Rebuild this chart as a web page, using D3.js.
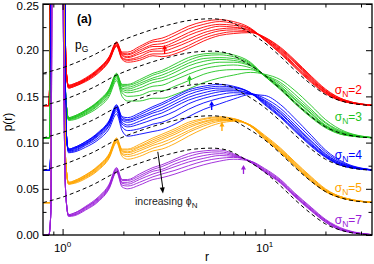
<!DOCTYPE html>
<html>
<head>
<meta charset="utf-8">
<script src="https://cdn.jsdelivr.net/npm/d3@7"></script>
<style>
body { margin: 0; background: #fff; }
svg { display: block; font-family: "Liberation Sans", Arial, Helvetica, sans-serif; }
</style>
</head>
<body>
<script>

// r grid shared by all curves after the contact peak
const rGrid = [1.07, 1.15, 1.3, 1.5, 1.7, 1.85, 1.97, 2.1, 2.4, 2.8, 3.1, 3.6, 4.2, 5, 6, 7, 8.5, 10, 12, 14, 17, 20, 25, 36];

const sigmaN = [2, 3, 4, 5, 7];
const shift = [0.14, 0.105, 0.07, 0.035, 0];

// contact peak (goes off the top of the plot)
const spikeR = [
    [0.78, 0.855, 0.862, 0.87, 1.0, 1.035, 1.05],
    [0.78, 0.86, 0.868, 0.878, 0.99, 1.03, 1.05],
    [0.78, 0.865, 0.873, 0.883, 1.0, 1.038, 1.052],
    [0.78, 0.87, 0.878, 0.888, 0.985, 1.03, 1.05],
    [0.78, 0.855, 0.875, 0.895, 0.975, 1.03, 1.05]
];
const spikeP = [
    [0, 0, 0.02, 0.5, 0.5, 0.06, 0.03],
    [0, 0, 0.02, 0.5, 0.5, 0.06, 0.03],
    [0, 0, 0.02, 0.5, 0.5, 0.06, 0.03],
    [0, 0, 0.02, 0.5, 0.5, 0.06, 0.03],
    [0, 0, 0.025, 0.5, 0.5, 0.06, 0.03]
];

const redCurves = [
    [.022,.024,.030,.040,.053,.069,.058,.058,.064,.071,.073,.079,.086,.091,.093,.091,.084,.071,.056,.042,.025,.013,.004,0],
    [.022,.024,.029,.039,.052,.068,.057,.056,.062,.069,.070,.076,.083,.088,.091,.089,.083,.071,.057,.043,.026,.014,.004,0],
    [.021,.023,.029,.039,.052,.068,.056,.055,.060,.066,.067,.072,.079,.085,.088,.087,.083,.072,.058,.044,.027,.014,.005,0],
    [.021,.023,.028,.038,.051,.067,.055,.053,.058,.064,.064,.069,.076,.082,.086,.085,.082,.072,.059,.045,.028,.015,.005,0],
    [.020,.022,.028,.038,.050,.066,.054,.052,.056,.061,.062,.066,.072,.079,.083,.084,.081,.073,.060,.047,.029,.016,.005,0],
    [.020,.022,.027,.037,.049,.065,.052,.050,.053,.059,.059,.063,.069,.076,.081,.082,.080,.073,.061,.048,.030,.016,.005,0],
    [.019,.021,.027,.036,.049,.065,.051,.049,.051,.056,.056,.059,.065,.073,.078,.080,.080,.074,.062,.049,.031,.017,.006,0],
    [.019,.021,.026,.035,.048,.064,.050,.047,.049,.054,.053,.056,.062,.070,.076,.078,.079,.074,.063,.050,.032,.018,.006,0]
];
const greenCurves = [
    [.022,.024,.030,.040,.053,.070,.058,.058,.063,.070,.073,.080,.087,.091,.092,.090,.082,.067,.052,.038,.022,.011,.003,0],
    [.022,.024,.030,.039,.052,.069,.057,.057,.061,.068,.071,.077,.084,.089,.090,.088,.081,.067,.053,.039,.023,.012,.003,0],
    [.021,.023,.029,.039,.052,.069,.056,.055,.059,.065,.068,.074,.081,.086,.087,.086,.080,.067,.054,.040,.024,.013,.004,0],
    [.021,.023,.029,.038,.051,.068,.054,.053,.057,.063,.065,.071,.078,.083,.085,.084,.079,.068,.055,.042,.026,.013,.004,0],
    [.021,.022,.028,.037,.050,.067,.053,.051,.054,.060,.062,.067,.074,.079,.082,.082,.078,.068,.056,.043,.027,.014,.005,0],
    [.020,.022,.027,.036,.049,.066,.051,.049,.051,.056,.057,.063,.069,.075,.078,.079,.076,.068,.058,.045,.029,.016,.005,0],
    [.020,.021,.026,.035,.047,.064,.049,.045,.046,.051,.051,.056,.062,.069,.073,.074,.074,.068,.060,.048,.031,.017,.006,0],
    [.019,.020,.025,.033,.045,.062,.045,.040,.040,.043,.043,.047,.053,.060,.065,.068,.071,.069,.063,.052,.035,.020,.007,0]
];
const blueCurves = [
    [.023,.025,.031,.041,.054,.071,.058,.057,.062,.069,.073,.080,.087,.091,.093,.091,.084,.071,.057,.043,.026,.014,.004,0],
    [.023,.025,.031,.040,.053,.070,.057,.055,.060,.067,.071,.078,.085,.089,.091,.090,.084,.072,.058,.044,.027,.015,.004,0],
    [.022,.024,.030,.040,.052,.069,.055,.054,.058,.064,.068,.075,.082,.087,.089,.089,.084,.073,.059,.045,.028,.015,.005,0],
    [.022,.024,.029,.039,.052,.068,.054,.052,.056,.062,.065,.072,.079,.084,.087,.087,.083,.074,.061,.047,.029,.016,.005,0],
    [.021,.023,.029,.038,.051,.067,.052,.049,.053,.059,.062,.069,.076,.081,.085,.086,.083,.075,.062,.048,.031,.017,.006,0],
    [.021,.022,.028,.037,.049,.066,.050,.047,.050,.055,.058,.064,.072,.078,.082,.084,.083,.076,.064,.050,.032,.018,.006,0],
    [.020,.021,.027,.035,.048,.064,.047,.043,.045,.050,.052,.058,.066,.073,.078,.081,.083,.078,.067,.053,.035,.020,.007,0],
    [.019,.020,.025,.033,.045,.061,.043,.037,.039,.042,.044,.050,.058,.066,.072,.077,.082,.081,.071,.057,.038,.022,.008,0]
];
const orangeCurves = [
    [.022,.024,.030,.040,.053,.070,.058,.058,.063,.070,.074,.080,.087,.091,.093,.091,.083,.069,.054,.040,.023,.012,.004,0],
    [.022,.024,.030,.039,.052,.069,.057,.057,.061,.068,.072,.078,.085,.090,.092,.091,.083,.069,.055,.041,.024,.012,.004,0],
    [.021,.023,.029,.039,.052,.069,.056,.055,.060,.066,.070,.076,.083,.088,.091,.090,.083,.070,.055,.041,.024,.013,.004,0],
    [.021,.023,.028,.038,.051,.068,.055,.054,.058,.064,.068,.074,.081,.087,.090,.090,.083,.071,.056,.042,.025,.013,.004,0],
    [.021,.022,.028,.037,.050,.067,.053,.052,.056,.062,.065,.071,.078,.085,.089,.089,.084,.071,.057,.043,.026,.014,.005,0],
    [.020,.022,.027,.036,.049,.066,.052,.050,.053,.059,.062,.068,.076,.083,.088,.089,.084,.072,.058,.044,.027,.014,.005,0],
    [.020,.021,.026,.035,.048,.065,.050,.047,.050,.056,.058,.064,.072,.080,.086,.088,.084,.073,.059,.045,.028,.015,.005,0]
];
const purpleCurves = [
    [.022,.024,.031,.041,.055,.073,.060,.060,.066,.073,.076,.082,.088,.091,.092,.088,.079,.068,.056,.042,.026,.014,.004,0],
    [.022,.024,.030,.040,.054,.072,.059,.059,.064,.071,.074,.080,.085,.089,.090,.087,.079,.069,.057,.043,.027,.014,.004,0],
    [.021,.023,.030,.039,.053,.071,.057,.057,.062,.069,.071,.077,.082,.086,.088,.086,.079,.069,.057,.043,.027,.015,.005,0],
    [.021,.022,.029,.038,.052,.070,.056,.055,.060,.066,.069,.074,.079,.083,.086,.085,.080,.070,.058,.044,.028,.016,.005,0],
    [.021,.022,.028,.037,.051,.069,.054,.053,.057,.063,.066,.070,.075,.080,.083,.084,.080,.071,.059,.045,.029,.016,.005,0],
    [.020,.021,.027,.036,.050,.068,.052,.050,.054,.060,.062,.066,.071,.076,.080,.082,.080,.072,.060,.046,.030,.017,.006,0]
];
const families = [redCurves, greenCurves, blueCurves, orangeCurves, purpleCurves];

// Gaussian reference p_G (same shape for each family, shifted)
const pGr = [0.8, 0.9, 1.0, 1.15, 1.4, 1.85, 2.5, 3.3, 4.5, 5.5, 6.5, 8, 10, 12, 14, 17, 20, 24, 30, 36];
const pGval = [.035, .038, .041, .046, .054, .068, .079, .087, .093, .094, .092, .082, .068, .053, .039, .023, .012, .005, .001, 0];

// small arrows (r, p at tip)
const arrowR = [3.2, 4.25, 5.47, 6.15, 7.86];
const arrowP = [0.2056, 0.173, 0.145, 0.1223, 0.0758];

const yTicks = [0, 0.05, 0.1, 0.15, 0.2, 0.25];
const yMinor = [0.025, 0.075, 0.125, 0.175, 0.225];
const xMajor = [1, 10];
const xMinor = [0.9, 2, 3, 4, 5, 6, 7, 8, 9, 20, 30];

const colors = ["#ff0000", "#1fc41f", "#0000ff", "#ffa500", "#9a1ed8"];

let width = 374, height = 264;
let margin = { top: 4, right: 2, bottom: 29, left: 43 };
let plotW = width - margin.left - margin.right;
let plotH = height - margin.top - margin.bottom;

const svg = d3.select("body").append("svg")
    .attr("width", width)
    .attr("height", height);

const x = d3.scaleLog().domain([0.8, 34]).range([margin.left, margin.left + plotW]);
const y = d3.scaleLinear().domain([0, 0.25]).range([margin.top + plotH, margin.top]);

svg.append("defs").append("clipPath").attr("id", "clip")
    .append("rect")
    .attr("x", margin.left).attr("y", margin.top)
    .attr("width", plotW).attr("height", plotH);

const line = d3.line()
    .x(d => x(d[0]))
    .y(d => y(d[1]))
    .curve(d3.curveMonotoneX);

const plot = svg.append("g").attr("clip-path", "url(#clip)");

families.forEach((curves, f) => {
    curves.forEach(row => {
        let pts = spikeR[f].map((r, i) => [r, shift[f] + spikeP[f][i]])
            .concat(rGrid.map((r, i) => [r, shift[f] + row[i]]));
        plot.append("path")
            .attr("d", line(pts))
            .attr("fill", "none")
            .attr("stroke", colors[f])
            .attr("stroke-width", 0.9);
    });
});

// dashed p_G curves
shift.forEach(s => {
    plot.append("path")
        .attr("d", line(pGr.map((r, i) => [r, s + pGval[i]])))
        .attr("fill", "none")
        .attr("stroke", "#000")
        .attr("stroke-width", 1)
        .attr("stroke-dasharray", "4,3");
});

// axes: inward ticks on all four sides
function drawAxis(axis, tx, ty) {
    let g = svg.append("g")
        .attr("transform", "translate(" + tx + "," + ty + ")")
        .call(axis);
    g.select(".domain").remove();
    g.selectAll("line").attr("stroke", "#000");
    return g;
}

let yl = drawAxis(d3.axisLeft(y).tickValues(yTicks).tickSize(-6).tickPadding(4).tickFormat(d3.format(".2f")), margin.left, 0);
yl.selectAll("text").attr("font-size", 11.5).attr("fill", "#000").attr("font-family", "Liberation Sans, Arial, sans-serif");
// keep the top label inside the picture
yl.selectAll("text").filter(d => d === 0.25).attr("dy", "0.5em");
drawAxis(d3.axisLeft(y).tickValues(yMinor).tickSize(-3.5).tickFormat(""), margin.left, 0);
drawAxis(d3.axisRight(y).tickValues(yTicks).tickSize(-6).tickFormat(""), margin.left + plotW, 0);
drawAxis(d3.axisRight(y).tickValues(yMinor).tickSize(-3.5).tickFormat(""), margin.left + plotW, 0);

drawAxis(d3.axisBottom(x).tickValues(xMajor).tickSize(-6).tickFormat(""), 0, margin.top + plotH);
drawAxis(d3.axisBottom(x).tickValues(xMinor).tickSize(-3.5).tickFormat(""), 0, margin.top + plotH);
drawAxis(d3.axisTop(x).tickValues(xMajor).tickSize(-6).tickFormat(""), 0, margin.top);
drawAxis(d3.axisTop(x).tickValues(xMinor).tickSize(-3.5).tickFormat(""), 0, margin.top);

// x tick labels 10^n
xMajor.forEach(v => {
    let t = svg.append("text")
        .attr("x", x(v))
        .attr("y", margin.top + plotH + 17)
        .attr("text-anchor", "middle")
        .attr("font-size", 11.5);
    t.append("tspan").text("10");
    t.append("tspan").attr("dy", -5).attr("font-size", 8).text(Math.round(Math.log10(v)));
});

svg.append("rect")
    .attr("x", margin.left).attr("y", margin.top)
    .attr("width", plotW).attr("height", plotH)
    .attr("fill", "none").attr("stroke", "#000").attr("stroke-width", 1.3);

// axis titles
svg.append("text")
    .attr("x", 207).attr("y", 261)
    .attr("text-anchor", "middle")
    .attr("font-size", 12)
    .text("r");

svg.append("text")
    .attr("transform", "translate(12,122) rotate(-90)")
    .attr("text-anchor", "middle")
    .attr("font-size", 12)
    .text("p(r)");

// labels
svg.append("text")
    .attr("x", 77).attr("y", 23)
    .attr("font-size", 12).attr("font-weight", "bold")
    .text("(a)");

let pg = svg.append("text").attr("x", 75).attr("y", 49).attr("font-size", 12);
pg.append("tspan").text("p");
pg.append("tspan").attr("dy", 3).attr("font-size", 8.5).text("G");

let labelY = [94, 121, 159, 192, 224];
sigmaN.forEach((s, i) => {
    let t = svg.append("text")
        .attr("x", 362).attr("y", labelY[i])
        .attr("text-anchor", "end")
        .attr("font-size", 12)
        .attr("fill", colors[i]);
    t.append("tspan").text("\u03c3");
    t.append("tspan").attr("dy", 3).attr("font-size", 8.5).text("N");
    t.append("tspan").attr("dy", -3).text("=" + s);
});

let inc = svg.append("text").attr("x", 135).attr("y", 205).attr("font-size", 10.5).attr("fill", "#222");
inc.append("tspan").text("increasing \u03d5");
inc.append("tspan").attr("dy", 3).attr("font-size", 8).text("N");

// black arrow
let ax0 = x(2.96), ay0 = y(0.090), ax1 = x(3.14), ay1 = y(0.045);
svg.append("line")
    .attr("x1", ax0).attr("y1", ay0).attr("x2", ax1).attr("y2", ay1 - 4)
    .attr("stroke", "#000").attr("stroke-width", 1);
let ang = Math.atan2(ay1 - ay0, ax1 - ax0);
let hl = 6, hw = 2.5;
svg.append("polygon")
    .attr("points", [
        [ax1, ay1],
        [ax1 - hl * Math.cos(ang) + hw * Math.sin(ang), ay1 - hl * Math.sin(ang) - hw * Math.cos(ang)],
        [ax1 - hl * Math.cos(ang) - hw * Math.sin(ang), ay1 - hl * Math.sin(ang) + hw * Math.cos(ang)]
    ].map(p => p.join(",")).join(" "))
    .attr("fill", "#000");

// colored up arrows
arrowR.forEach((r, i) => {
    let ax = x(r), ay = y(arrowP[i]);
    svg.append("line")
        .attr("x1", ax).attr("y1", ay + 3).attr("x2", ax).attr("y2", ay + 9)
        .attr("stroke", colors[i]).attr("stroke-width", 1.3);
    svg.append("polygon")
        .attr("points", [[ax, ay], [ax - 2.5, ay + 4.5], [ax + 2.5, ay + 4.5]].map(p => p.join(",")).join(" "))
        .attr("fill", colors[i]);
});

</script>
</body>
</html>
